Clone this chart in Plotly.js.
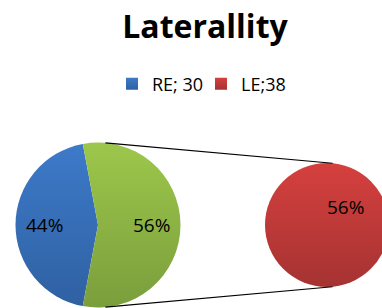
<!DOCTYPE html>
<html>
<head>
<meta charset="utf-8">
<script src="https://cdn.plot.ly/plotly-3.0.1.min.js"></script>
<style>
  html, body { margin: 0; padding: 0; background: #fff; overflow: hidden; }
  #chart { width: 410px; height: 308px; }
</style>
</head>
<body>
<div id="chart"></div>
<script>
// ---- data ----
const categories = ['RE; 30', 'LE;38'];
const values = [30, 38];
const secondaryLabels = ['LE;38'];
const secondaryValues = [38];
const chartTitle = 'Laterallity';

// ---- styles ----
const W = 410, H = 308;
const colorRE = '#3771BC';
const colorOther = '#8FB846';
const colorLE = '#C23B3A';
const fontFamily = '"Open Sans", Lato, sans-serif';

// pie geometry (pixels)
const pie1 = { cx: 98, cy: 225, r: 82.5 };
const pie2 = { cx: 327, cy: 225, r: 62 };
const labelRadiusFrac = 0.65;
const secondaryLabelAngle = 45;   // degrees clockwise from 12 o'clock
const secondaryLabelFrac = 0.42;

function domainOf(p) {
  return {
    x: [(p.cx - p.r) / W, (p.cx + p.r) / W],
    y: [1 - (p.cy + p.r) / H, 1 - (p.cy - p.r) / H]
  };
}

const total = values.reduce((a, b) => a + b, 0);
const reAngle = 360 * values[0] / total;
const rotation = 270 - reAngle / 2;
const pct = v => Math.round(v / total * 100) + '%';

const tracePrimary = {
  type: 'pie',
  labels: categories,
  values: values,
  sort: false,
  direction: 'clockwise',
  rotation: rotation,
  domain: domainOf(pie1),
  marker: { colors: [colorRE, colorOther], line: { width: 0 } },
  textinfo: 'none',
  legendrank: 1,
  hoverinfo: 'skip'
};

const traceSecondary = {
  type: 'pie',
  labels: secondaryLabels,
  values: secondaryValues,
  sort: false,
  domain: domainOf(pie2),
  marker: { colors: [colorLE], line: { width: 0 } },
  textinfo: 'none',
  legendrank: 2,
  hoverinfo: 'skip'
};

// data labels, placed at each slice's mid-angle
const annotations = [];
let start = rotation;
values.forEach(v => {
  const span = 360 * v / total;
  const mid = (start + span / 2) * Math.PI / 180;
  start += span;
  annotations.push({
    xref: 'paper', yref: 'paper',
    x: (pie1.cx + labelRadiusFrac * pie1.r * Math.sin(mid)) / W,
    y: 1 - (pie1.cy - labelRadiusFrac * pie1.r * Math.cos(mid)) / H,
    text: pct(v), showarrow: false,
    xanchor: 'center', yanchor: 'middle',
    font: { family: fontFamily, size: 19, color: '#000' }
  });
});
secondaryValues.forEach(v => {
  const a = secondaryLabelAngle * Math.PI / 180;
  annotations.push({
    xref: 'paper', yref: 'paper',
    x: (pie2.cx + secondaryLabelFrac * pie2.r * Math.sin(a)) / W,
    y: 1 - (pie2.cy - secondaryLabelFrac * pie2.r * Math.cos(a)) / H,
    text: pct(v), showarrow: false,
    xanchor: 'center', yanchor: 'middle',
    font: { family: fontFamily, size: 19, color: '#000' }
  });
});

// tangent connector lines between the two pies
const phi = Math.asin((pie1.r - pie2.r) / (pie2.cx - pie1.cx));
function tp(p, sgn) {
  return [p.cx + p.r * Math.sin(phi), p.cy + sgn * p.r * Math.cos(phi)];
}
const shapes = [-1, 1].map(sgn => {
  const a = tp(pie1, sgn), b = tp(pie2, sgn);
  return {
    type: 'line', xref: 'paper', yref: 'paper',
    x0: a[0] / W, y0: 1 - a[1] / H, x1: b[0] / W, y1: 1 - b[1] / H,
    line: { color: '#000', width: 1.2 }
  };
});

const layout = {
  width: W, height: H,
  margin: { l: 0, r: 0, t: 0, b: 0 },
  paper_bgcolor: '#fff',
  title: {
    text: '<b>' + chartTitle + '</b>',
    font: { family: fontFamily, size: 32, color: '#000' },
    x: 0.5, xanchor: 'center',
    yref: 'container', y: 1 - 27 / H, yanchor: 'middle'
  },
  showlegend: true,
  legend: {
    orientation: 'h',
    x: 0.5 - 4 / W, xanchor: 'center',
    y: 1 - 84 / H, yanchor: 'middle',
    entrywidth: 44,
    font: { family: fontFamily, size: 18, color: '#000' },
    bgcolor: 'rgba(0,0,0,0)'
  },
  annotations: annotations,
  shapes: shapes
};

Plotly.newPlot('chart', [traceSecondary, tracePrimary], layout, { staticPlot: true, displayModeBar: false }).then(gd => {
  // Excel-like vertical shading on the slices
  const svg = gd.querySelector('svg.main-svg');
  const ns = 'http://www.w3.org/2000/svg';
  const defs = svg.querySelector('defs');
  const grads = {};
  function gradFor(fill) {
    if (grads[fill]) return grads[fill];
    const m = fill.match(/\d+(\.\d+)?/g);
    if (!m) return null;
    const [r, g, b] = m.map(Number);
    const id = 'grad' + Object.keys(grads).length;
    const lg = document.createElementNS(ns, 'linearGradient');
    lg.setAttribute('id', id);
    lg.setAttribute('x1', '0'); lg.setAttribute('y1', '0');
    lg.setAttribute('x2', '0'); lg.setAttribute('y2', '1');
    const s1 = document.createElementNS(ns, 'stop');
    s1.setAttribute('offset', '0');
    s1.setAttribute('stop-color', `rgb(${Math.min(255, r * 1.1)},${Math.min(255, g * 1.08)},${Math.min(255, b * 1.07)})`);
    const s2 = document.createElementNS(ns, 'stop');
    s2.setAttribute('offset', '1');
    s2.setAttribute('stop-color', `rgb(${r * 0.85},${g * 0.86},${b * 0.86})`);
    lg.appendChild(s1); lg.appendChild(s2);
    defs.appendChild(lg);
    grads[fill] = id;
    return id;
  }
  gd.querySelectorAll('g.slice path.surface, g.legendpoints path').forEach(p => {
    const f = p.style.fill;
    const id = gradFor(f);
    if (id) p.style.fill = 'url(#' + id + ')';
  });
});
</script>
</body>
</html>
